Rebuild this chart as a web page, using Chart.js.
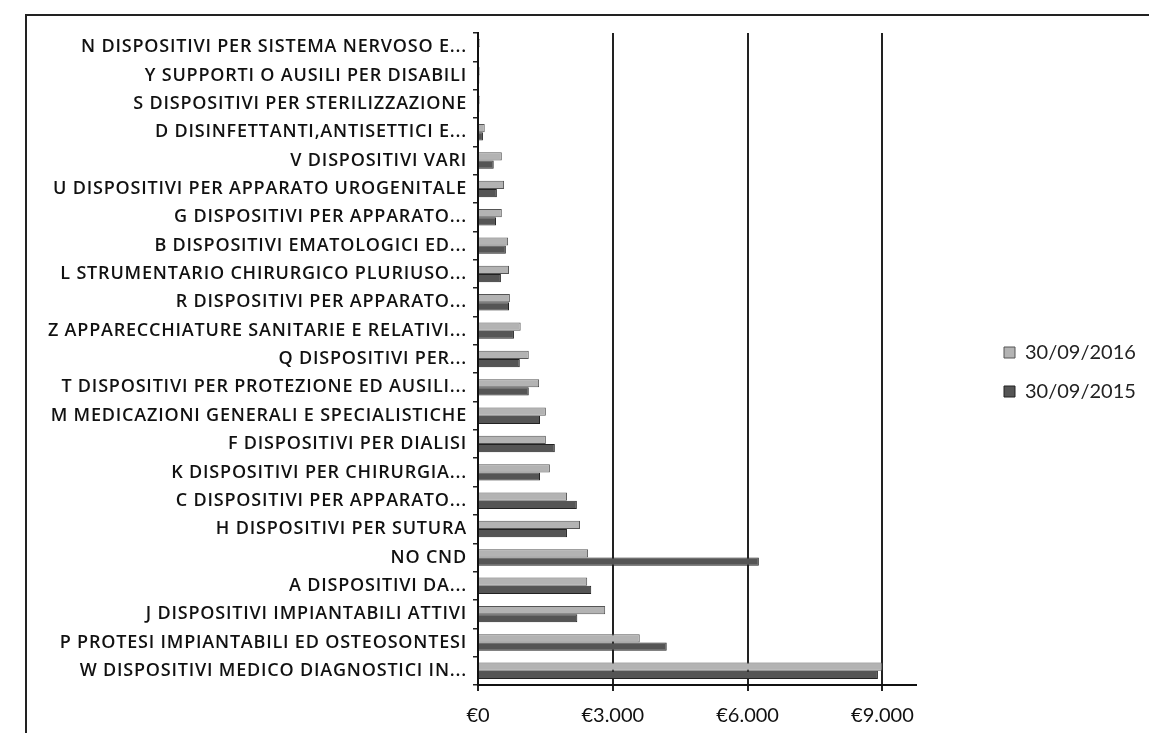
<!DOCTYPE html>
<html>
<head>
<meta charset="utf-8">
<script src="https://cdn.jsdelivr.net/npm/chart.js@4"></script>
<style>
  html, body { margin: 0; padding: 0; background: #fff; }
  #wrap { position: relative; width: 1149px; height: 733px; overflow: hidden; }
  #frame { position: absolute; left: 25px; top: 14px; width: 1200px; height: 800px;
           border-left: 2px solid #222; border-top: 2px solid #222; }
  canvas { position: absolute; left: 0; top: 0; }
</style>
</head>
<body>
<div id="wrap">
  <div id="frame"></div>
  <canvas id="chart" width="1149" height="733"></canvas>
</div>
<script>
const categories = [
  "N DISPOSITIVI PER SISTEMA NERVOSO E...",
  "Y SUPPORTI O AUSILI PER DISABILI",
  "S DISPOSITIVI PER STERILIZZAZIONE",
  "D DISINFETTANTI,ANTISETTICI E...",
  "V DISPOSITIVI VARI",
  "U DISPOSITIVI PER APPARATO UROGENITALE",
  "G DISPOSITIVI PER APPARATO...",
  "B DISPOSITIVI EMATOLOGICI ED...",
  "L STRUMENTARIO CHIRURGICO PLURIUSO...",
  "R DISPOSITIVI PER APPARATO...",
  "Z APPARECCHIATURE SANITARIE E RELATIVI...",
  "Q DISPOSITIVI PER...",
  "T DISPOSITIVI PER PROTEZIONE ED AUSILI...",
  "M MEDICAZIONI GENERALI E SPECIALISTICHE",
  "F DISPOSITIVI PER DIALISI",
  "K DISPOSITIVI PER CHIRURGIA...",
  "C DISPOSITIVI PER APPARATO...",
  "H DISPOSITIVI PER SUTURA",
  "NO CND",
  "A DISPOSITIVI DA...",
  "J DISPOSITIVI IMPIANTABILI ATTIVI",
  "P PROTESI IMPIANTABILI ED OSTEOSONTESI",
  "W DISPOSITIVI MEDICO DIAGNOSTICI IN..."
];
const values2016 = [40, 40, 40, 150, 530, 580, 530, 670, 690, 710, 950, 1130, 1360, 1510, 1510, 1600, 1980, 2270, 2450, 2430, 2830, 3600, 9000];
const values2015 = [20, 30, 30, 110, 350, 420, 400, 620, 510, 690, 800, 930, 1130, 1380, 1710, 1380, 2200, 1980, 6250, 2520, 2210, 4200, 8900];
const seriesNames = ["30/09/2016", "30/09/2015"];
const tickValues = [0, 3000, 6000, 9000];
const axisMax = 9750;

function euro(v) {
  return "€" + String(v).replace(/\B(?=(\d{3})+(?!\d))/g, ".");
}

// category axis whose labels are drawn a little letter-spaced (the scan's font is wide)
const CategoryScale = Chart.registry.getScale("category");
class SpacedCategoryScale extends CategoryScale {
  drawLabels(chartArea) {
    const ctx = this.ctx;
    ctx.save();
    ctx.letterSpacing = "0.8px";
    super.drawLabels(chartArea);
    ctx.restore();
  }
}
SpacedCategoryScale.id = "spacedCategory";
SpacedCategoryScale.defaults = CategoryScale.defaults;
Chart.register(SpacedCategoryScale);

// move the legend out to where the original has it
const legendShift = {
  id: "legendShift",
  afterLayout(chart) {
    const lg = chart.legend;
    const dx = 1004 - (lg.left + lg.options.labels.padding);
    const dy = -11;
    lg.left += dx; lg.right += dx;
    lg.top += dy; lg.bottom += dy;
  }
};

new Chart(document.getElementById("chart"), {
  type: "bar",
  data: {
    labels: categories,
    datasets: [{
      label: seriesNames[0],
      data: values2016,
      backgroundColor: "#b3b3b3",
      borderColor: "#555",
      borderWidth: 1
    }, {
      label: seriesNames[1],
      data: values2015,
      backgroundColor: "#555",
      borderColor: "#222",
      borderWidth: 1
    }]
  },
  options: {
    indexAxis: "y",
    responsive: false,
    animation: false,
    categoryPercentage: 0.58,
    barPercentage: 1,
    layout: { padding: { top: 33, left: 0, right: 72, bottom: 0 } },
    plugins: {
      tooltip: { enabled: false },
      legend: {
        position: "right",
        labels: {
          boxWidth: 11,
          boxHeight: 11,
          padding: 19,
          color: "#222",
          font: { family: "Lato", size: 20 }
        }
      }
    },
    scales: {
      x: {
        min: 0,
        max: axisMax,
        afterBuildTicks(scale) {
          scale.ticks = tickValues.map(v => ({ value: v }));
        },
        afterFit(scale) { scale.height = 48; },
        ticks: {
          color: "#111",
          padding: 13,
          font: { family: "Lato", size: 20 },
          callback: v => euro(v)
        },
        grid: { color: "#222", lineWidth: 2, tickLength: 6 },
        border: { color: "#111", width: 2 }
      },
      y: {
        type: "spacedCategory",
        offset: true,
        afterFit(scale) { scale.width = 478; },
        ticks: {
          color: "#111",
          padding: 6,
          autoSkip: false,
          font: { family: "Open Sans", size: 18, weight: "600" }
        },
        grid: { offset: true, drawOnChartArea: false, color: "#222", lineWidth: 1.5, tickLength: 5 },
        border: { color: "#111", width: 2 }
      }
    }
  },
  plugins: [legendShift]
});
</script>
</body>
</html>
